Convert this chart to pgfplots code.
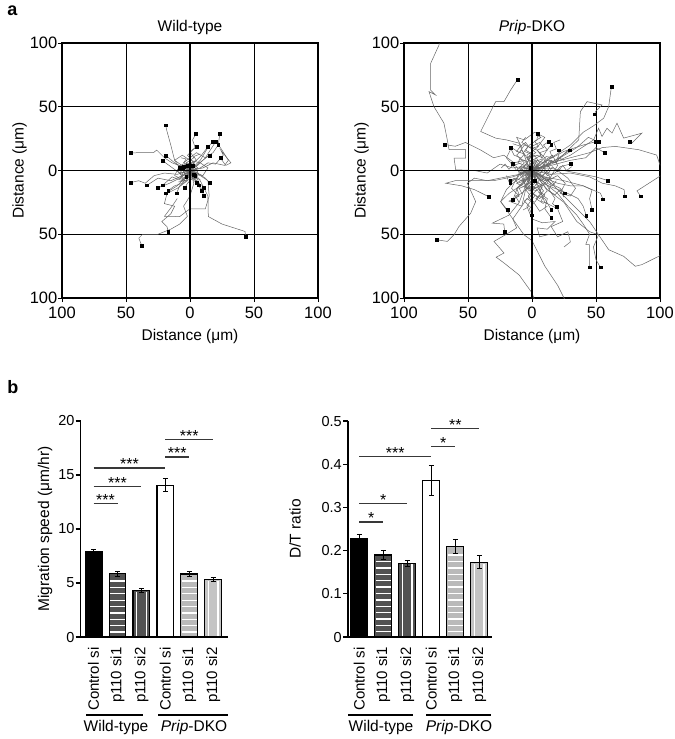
\documentclass[border=0pt]{standalone}
\usepackage{fontspec}
\setmainfont{Liberation Sans}
\usepackage{pgfplots}
\pgfplotsset{compat=1.18}
\definecolor{trk}{gray}{0.40}
\definecolor{dk}{gray}{0.32}
\definecolor{lt}{gray}{0.73}
\definecolor{lt2}{gray}{0.77}
\definecolor{sigc}{gray}{0.22}
\pgfplotsset{
  track/.style={color=trk, line width=0.5bp, mark=none, forget plot},
  endp/.style={only marks, mark=square*, mark size=1.4bp, black, forget plot},
  trajaxis/.style={scale only axis, width=256bp, height=255bp, anchor=south west,
    xmin=-100,xmax=100,ymin=-100,ymax=100,
    xtick={-100,-50,0,50,100}, ytick={-100,-50,0,50,100},
    xticklabels={100,50,0,50,100}, yticklabels={100,50,0,50,100},
    tick pos=left, tick align=outside, major tick length=4bp,
    tick style={black, line width=0.8bp},
    grid=major, grid style={black, line width=0.6bp},
    axis line style={line width=1.2bp},
    ticklabel style={font=\fontsize{16.5bp}{18bp}\selectfont},
    yticklabel style={inner xsep=0.5bp},
    xlabel={Distance (μm)}, ylabel={Distance (μm)},
    label style={font=\fontsize{15.5bp}{18bp}\selectfont},
    ylabel style={at={(axis description cs:-0.166,0.5)}, anchor=center},
    title style={font=\fontsize{15.5bp}{18bp}\selectfont, at={(axis description cs:0.5,1)}, anchor=base, yshift=6bp},
  },
  baraxis/.style={scale only axis, height=216bp, anchor=south west,
    axis lines=left, axis line style={-, line width=1.2bp},
    ymin=0, xtick={0,...,5},
    xticklabels={Control si, p110 si1, p110 si2, Control si, p110 si1, p110 si2},
    xticklabel style={rotate=90, anchor=east, font=\fontsize{15bp}{17bp}\selectfont},
    major x tick style={draw=none},
    tick align=outside, major tick length=5bp,
    major y tick style={black, line width=1.2bp},
    yticklabel style={font=\fontsize{14.5bp}{16bp}\selectfont, inner xsep=1bp},
    ylabel style={font=\fontsize{15.5bp}{18bp}\selectfont, anchor=center},
    clip=false,
  },
  bstyle/.style={ybar, bar width=0.7, bar shift=0, draw=black, line width=1.2bp,
    error bars/y dir=both, error bars/y explicit,
    error bars/error bar style={black, line width=1bp},
    error bars/error mark options={rotate=90, black, mark size=2.5bp, line width=1bp}},
}
\tikzset{
  sig/.style={draw=sigc, line width=1.2bp},
  star/.style={anchor=south, inner sep=0pt, yshift=-2.5bp, font=\fontsize{16bp}{16bp}\selectfont},
  wst/.style={white, line width=1.3bp},
}
\begin{document}
\fontsize{15.5bp}{18bp}\selectfont
\begin{tikzpicture}
\useasboundingbox (0,0) rectangle (675bp,-739bp);
\node[anchor=base west, font=\bfseries\fontsize{18bp}{18bp}\selectfont] at (2bp,-15bp) {a};
\node[anchor=base west, font=\bfseries\fontsize{18bp}{18bp}\selectfont] at (2bp,-393bp) {b};

% ---------------- Wild-type trajectories
\begin{axis}[trajaxis, at={(62bp,-298bp)}, title={Wild-type}]
\addplot[track] coordinates {(0,0) (-5,3) (-12,8) (-15,19.9) (-18.2,31.6) (-19,35.5)};
\addplot[track] coordinates {(0,0) (3,6) (-2,12) (4,18) (2,24) (4.7,28.8)};
\addplot[track] coordinates {(0,0) (6,4) (12,10) (18,14) (22,20) (23.4,28.8)};
\addplot[track] coordinates {(0,0) (8,8) (14,18) (17.6,22.5)};
\addplot[track] coordinates {(0,0) (-5,6) (5,14) (12,10) (20,22.5)};
\addplot[track] coordinates {(0,0) (10,2) (18,6) (27,4) (30,8) (25,16) (22,20.5)};
\addplot[track] coordinates {(0,0) (4,7) (9,12) (13.8,18.4)};
\addplot[track] coordinates {(0,0) (-3,6) (3,10) (0,15) (5,18.4)};
\addplot[track] coordinates {(0,0) (5,4) (10,8) (15.1,11.9)};
\addplot[track] coordinates {(0,0) (8,2) (14,6) (20,5) (26,12) (24,16) (32,6) (28,4) (23.7,9.8)};
\addplot[track] coordinates {(0,0) (-6,3) (-14,6) (-20,10) (-26,16) (-28.6,14) (-46.6,13.9)};
\addplot[track] coordinates {(0,0) (-5,2) (-12,6) (-19,11.9)};
\addplot[track] coordinates {(0,0) (-8,-2) (-15,3) (-21.4,7.7)};
\addplot[track] coordinates {(0,0) (-10,-3) (-20,-2) (-28,-4) (-35,-10) (-40,-8) (-46.6,-9.5)};
\addplot[track] coordinates {(0,0) (-6,-4) (-15,-8) (-25,-6) (-33.6,-11.6)};
\addplot[track] coordinates {(0,0) (-8,-6) (-16,-10) (-25.5,-13.7)};
\addplot[track] coordinates {(0,0) (-6,-8) (-14,-5) (-21.4,-11.6)};
\addplot[track] coordinates {(0,0) (-4,-6) (-10,-12) (-19,-17.8)};
\addplot[track] coordinates {(0,0) (-6,-10) (-12,-12) (-17,-15.8)};
\addplot[track] coordinates {(0,0) (-3,-8) (-8,-12) (-10.5,-17.8)};
\addplot[track] coordinates {(0,0) (2,-6) (-2,-10) (-4,-13.7)};
\addplot[track] coordinates {(0,0) (5,-4) (8,-8) (10.9,-13.7)};
\addplot[track] coordinates {(0,0) (3,-6) (6,-10) (8.9,-15.8)};
\addplot[track] coordinates {(0,0) (5,-5) (8,-12) (10.9,-20)};
\addplot[track] coordinates {(0,0) (6,-2) (12,-6) (15.1,-9.5)};
\addplot[track] coordinates {(0,0) (2,-4) (5,-9.5)};
\addplot[track] coordinates {(0,0) (4,-6) (7,-11.6)};
\addplot[track] coordinates {(0,0) (-2,-8) (-10,-14) (-18,-18) (-20,-26) (-12,-28) (-15,-34) (-22,-40) (-18,-44) (-17,-48)};
\addplot[track] coordinates {(0,0) (3,-10) (0,-20) (-5,-28) (-2,-36) (-8,-42) (-15,-46) (-25,-50) (-37,-50) (-40,-53) (-37.8,-58.7)};
\addplot[track] coordinates {(0,0) (3,-8) (10,-12) (14,-20) (14.3,-36.1) (25,-42) (43,-47.8) (43.5,-52.2)};
\addplot[track] coordinates {(0,0) (8,-4) (14,-8) (15,-20) (12,-30) (0,-30) (-8,-36.1) (-20,-36) (-14,-28) (-10,-22)};
\addplot[track] coordinates {(0,0) (-4,3) (-8,-2) (-3,-5) (-6,2) (-2,4)};
\addplot[track] coordinates {(0,0) (3,3) (-2,6) (-6,2) (-4,-3) (2,-2) (4,-4)};
\addplot[track] coordinates {(0,0) (-6,5) (-10,0) (-5,-6) (0,-3) (-5,3)};
\addplot[track] coordinates {(0,0) (6,2) (2,6) (-4,4) (-2,-2) (3,-3) (1,-6) (-3,-5)};
\addplot[track] coordinates {(0,0) (-8,4) (-12,-4) (-4,-8) (4,-6) (6,0) (2,4)};
\addplot[track] coordinates {(0,0) (10,-4) (14,2) (8,6) (0,8) (-6,12) (-12,8) (-8,2)};
\addplot[track] coordinates {(0,0) (-3,2) (-1,5) (-5,6) (-3,9) (-7,10)};
\addplot[track] coordinates {(0,0) (2,-2) (5,0) (7,-3) (4,-6) (8,-7)};
\addplot[track] coordinates {(0,0) (-2,-3) (-5,-1) (-7,-5) (-4,-8) (-9,-9)};
\addplot[track] coordinates {(0,0) (3,2) (1,6) (5,8) (3,11) (8,13)};
\addplot[endp] coordinates {(-19,35.5) (4.7,28.8) (23.4,28.8) (17.6,22.5) (20,22.5) (22,20.5) (13.8,18.4) (5,18.4) (15.1,11.9) (23.7,9.8) (-46.6,13.9) (-19,11.9) (-21.4,7.7) (-46.6,-9.5) (-33.6,-11.6) (-25.5,-13.7) (-21.4,-11.6) (-19,-17.8) (-17,-15.8) (-10.5,-17.8) (-4,-13.7) (10.9,-13.7) (8.9,-15.8) (10.9,-20) (15.1,-9.5) (5,-9.5) (7,-11.6) (-17,-48) (-37.8,-58.7) (43.5,-52.2) (-2,4) (4,-4) (-5,3) (-3,-5) (2,4) (-8,2) (-6,2) (3,-3)};
\draw[line width=1.2bp] (axis cs:-100,0) -- (axis cs:100,0);
\draw[line width=1.2bp] (axis cs:0,-100) -- (axis cs:0,100);
\end{axis}

% ---------------- Prip-DKO trajectories
\begin{axis}[trajaxis, at={(404bp,-298bp)}, title={\textit{Prip}-DKO}]
\addplot[track] coordinates {(0,0) (-8,3) (-15,2) (-25,5) (-35,-2) (-45,0) (-59.6,0.6) (-60.9,9.8) (-51.8,9.8) (-51.8,16.3) (-64.8,16.3) (-66.2,24.1) (-68.8,37.1) (-76.6,50.1) (-80.5,61.9) (-75.3,59.2) (-79.2,63.1) (-79.2,84) (-72.7,98.3) (-71,110)};
\addplot[track] coordinates {(0,0) (-6,8) (-14,6) (-22,12) (-30,10) (-40,16) (-52,22) (-60,19) (-68.5,20.5)};
\addplot[track] coordinates {(0,0) (-4,6) (-6,12) (-10.2,21.5) (-20,24) (-28.4,25.4) (-40.1,30.6) (-28.4,54) (-21.9,54) (-16.7,63.1) (-11.2,71.5)};
\addplot[track] coordinates {(0,0) (8,6) (18,12) (30,20) (40,30) (48,35) (56,41) (59.9,50.1) (62,65.5)};
\addplot[track] coordinates {(0,0) (12,4) (24,12) (36.5,24.1) (37.8,46.2) (43,54) (54.7,51.4) (49.5,46.2) (49.2,44.1)};
\addplot[track] coordinates {(0,0) (15,5) (30,12) (48.2,24.1) (52,33.2) (54.7,26.7) (58.6,33.2) (62.5,29.3) (66.4,37.1) (71.6,25.4) (85.9,29.3) (78.1,21.5) (76.6,22.5)};
\addplot[track] coordinates {(0,0) (15,6) (30,10) (45,14) (55,18) (65.1,18.9) (83.4,16.3) (97.4,12.1) (100,4.3) (104,0) (100,-4.4) (82,-16) (85,-20.2)};
\addplot[track] coordinates {(0,0) (15,-3) (30,-2) (45,-5) (55,-10) (65,-12) (72,-15) (72.4,-20.2)};
\addplot[track] coordinates {(0,0) (12,2) (25,0) (40,-3) (50,-5) (59.4,-7.9)};
\addplot[track] coordinates {(0,0) (15,4) (30,8) (42,10) (50,18) (56.6,14)};
\addplot[track] coordinates {(0,0) (12,8) (25,15) (40,20) (49.5,22.5)};
\addplot[track] coordinates {(0,0) (10,4) (22,10) (35,18) (44,26) (52,22.5)};
\addplot[track] coordinates {(0,0) (10,-5) (25,-8) (40,-12) (53.4,-17.8) (55.5,-22.5)};
\addplot[track] coordinates {(0,0) (10,-6) (20,-10) (30,-12) (40,-12) (46.9,-15.2) (45,-22) (46.9,-30.9)};
\addplot[track] coordinates {(0,0) (8,-10) (18,-14) (28,-18) (36,-22) (40,-28) (42.4,-35.3)};
\addplot[track] coordinates {(0,0) (10,-10) (20,-18) (28,-28) (35,-35) (40,-42) (45,-50) (42,-58) (44.8,-58.2) (44.8,-75.9)};
\addplot[track] coordinates {(0,0) (12,-15) (25,-25) (35,-40) (45,-48) (52,-50.4) (48,-60) (50,-70) (53.4,-75.9)};
\addplot[track] coordinates {(0,0) (15,-10) (25,-20) (35,-30) (45,-40) (52,-50.4) (59.9,-62.1) (71.6,-67.3) (80.7,-75.1) (85.9,-73.8) (100,-66.8) (110,-62)};
\addplot[track] coordinates {(0,0) (-10,-3) (-20,-5) (-35,-8) (-45,-6) (-50.5,-10) (-44,-24.4) (-47.9,-33.5) (-57,-43.9) (-60.9,-50.4) (-66.2,-55.6) (-74.7,-54.3)};
\addplot[track] coordinates {(0,0) (-15,-5) (-30,-8) (-45,-8) (-60,-8) (-67.4,-10) (-55,-12) (-45,-15) (-34.1,-20.4)};
\addplot[track] coordinates {(0,0) (-8,-5) (-15,-10) (-20,-15) (-24.5,-24.4) (-19.3,-30.9)};
\addplot[track] coordinates {(0,0) (-6,-10) (-18,-18) (-24.5,-24.4) (-6.3,-50.4) (0,-55) (5,-65) (10,-75) (20,-90) (25,-100) (27,-104)};
\addplot[track] coordinates {(0,0) (-5,-12) (-10,-25) (-18,-35) (-31,-41.3) (-22,-42) (-21.4,-47.8)};
\addplot[track] coordinates {(0,0) (-5,-8) (-12,-15) (-14.8,-23)};
\addplot[track] coordinates {(0,0) (-5,-15) (-8,-28) (-15,-38) (-12,-45) (-20,-50) (-29.7,-55.6) (-21.9,-64.7) (-28,-68) (-21.9,-72.5) (-10,-82) (0,-96) (3,-104)};
\addplot[track] coordinates {(0,0) (3,-4) (-2,-7) (4,-10) (1,-14) (6,-12) (9,-16) (5,-20) (10,-22) (15,-30.8)};
\addplot[track] coordinates {(0,0) (-4,3) (2,6) (-3,9) (4,12) (8,10) (11,15) (15,20.4)};
\addplot[track] coordinates {(0,0) (5,2) (2,7) (8,9) (6,14) (12,16) (9,20) (12.9,22.5)};
\addplot[track] coordinates {(0,0) (-3,-3) (-8,-1) (-6,4) (-11,6) (-9,10) (-14,12) (-16.9,17.9)};
\addplot[track] coordinates {(0,0) (-6,2) (-4,-3) (-10,-2) (-12,3) (-14.8,5.1)};
\addplot[track] coordinates {(0,0) (4,-3) (9,0) (12,-4) (18,-2) (22,3) (30,5.1)};
\addplot[track] coordinates {(0,0) (-5,-4) (-9,-2) (-12,-7) (-17,-8)};
\addplot[track] coordinates {(0,0) (-3,-6) (-8,-8) (-13,-6) (-17,-10)};
\addplot[track] coordinates {(0,0) (6,-5) (10,-8) (14,-6) (18,-12) (22,-14) (25.5,-17.8)};
\addplot[track] coordinates {(0,0) (3,-8) (8,-12) (6,-18) (12,-22) (10,-30) (15,-37)};
\addplot[track] coordinates {(0,0) (5,-6) (11,-10) (14,-16) (18,-22) (16,-26) (19.3,-28.7)};
\addplot[track] coordinates {(0,0) (-2,-8) (2,-14) (-3,-20) (1,-26) (-2,-30) (0,-35)};
\addplot[track] coordinates {(0,0) (6,4) (10,2) (14,8) (18,6) (21,12) (21,16)};
\addplot[track] coordinates {(0,0) (8,3) (12,8) (18,6) (24,12) (29.6,16)};
\addplot[track] coordinates {(0,0) (-2,-5) (-8,-10) (-12,-14) (-10,-19) (-14.8,-23)};
\addplot[track] coordinates {(0,0) (2,5) (-3,8) (0,13) (-5,16) (-2,20) (4,24) (4.3,28.7)};
\addplot[track] coordinates {(0,0) (-5,5) (-10,0) (-6,-6) (-12,-10) (-4,-14) (-8,-18) (-2,-12) (3,-5) (-1,2)};
\addplot[track] coordinates {(0,0) (6,6) (2,12) (-4,10) (-8,16) (-12,12) (-6,6) (-10,2) (-3,-3)};
\addplot[track] coordinates {(0,0) (8,-4) (14,2) (10,8) (16,12) (20,4) (14,-6) (8,-12) (2,-8)};
\addplot[track] coordinates {(0,0) (-7,-8) (-3,-14) (4,-16) (8,-10) (12,-16) (6,-22) (0,-18) (-4,-10)};
\addplot[track] coordinates {(0,0) (10,10) (4,16) (-6,20) (-10,14) (-16,18) (-20,10) (-15,4) (-8,6)};
\addplot[track] coordinates {(0,0) (-10,-2) (-16,-14) (-10,-20) (-18,-24) (-8,-28) (-4,-22) (2,-26) (6,-32) (12,-28)};
\addplot[track] coordinates {(0,0) (12,-8) (20,-4) (26,-10) (22,-18) (30,-20) (34,-14) (28,-6) (20,0)};
\addplot[track] coordinates {(0,0) (-4,12) (4,18) (10,26) (2,30) (-6,24) (-12,26) (-8,18)};
\addplot[track] coordinates {(0,0) (-3,-10) (2,-20) (-4,-28) (0,-38) (8,-41) (18,-40) (12,-46) (4,-45) (6,-52) (14,-50)};
\addplot[track] coordinates {(0,0) (6,-15) (10,-25) (20,-30) (24,-40) (15,-44) (20,-52) (28,-48) (30,-56) (25,-60)};
\addplot[track] coordinates {(0,0) (-3,4) (2,8) (-2,11) (3,14) (-1,17) (5,19) (2,23) (7,26) (3,28)};
\addplot[track] coordinates {(0,0) (4,-2) (1,-5) (6,-7) (3,-11) (8,-13) (5,-17) (10,-19) (7,-24) (12,-26)};
\addplot[track] coordinates {(0,0) (-4,-2) (-2,-6) (-7,-8) (-5,-12) (-10,-14) (-8,-18) (-13,-20) (-10,-25)};
\addplot[track] coordinates {(0,0) (3,3) (7,1) (9,5) (13,3) (15,8) (19,6) (21,10) (25,8)};
\addplot[track] coordinates {(0,0) (-3,2) (-6,-1) (-9,3) (-12,0) (-15,4) (-18,1) (-21,5) (-24,2)};
\addplot[track] coordinates {(0,0) (2,-3) (-1,-6) (3,-9) (0,-12) (4,-15) (1,-18) (5,-21) (2,-25) (-2,-22)};
\addplot[track] coordinates {(0,0) (5,5) (2,9) (7,12) (4,16) (9,18) (6,22) (-2,18) (-5,22) (-9,19)};
\addplot[track] coordinates {(0,0) (-5,-5) (-1,-9) (-6,-12) (-2,-16) (4,-13) (8,-18) (3,-22) (9,-26)};
\addplot[track] coordinates {(0,0) (6,-3) (9,2) (13,-2) (16,3) (20,-1) (24,4) (27,0) (31,3)};
\addplot[track] coordinates {(0,0) (-6,3) (-3,7) (-9,9) (-6,13) (-12,15) (-9,19) (-15,21)};
\addplot[track] coordinates {(0,0) (2,4) (6,2) (4,-3) (8,-5) (11,-1) (14,-5) (12,-10) (16,-12) (19,-8)};
\addplot[track] coordinates {(0,0) (-2,-3) (-6,0) (-9,-4) (-6,-8) (-11,-10) (-14,-6) (-18,-9) (-20,-4)};
\addplot[track] coordinates {(0,0) (1,6) (-4,9) (-1,13) (-6,15) (-3,19) (-8,22) (-5,26)};
\addplot[track] coordinates {(0,0) (4,8) (9,6) (11,11) (16,10) (14,15) (19,17) (17,22) (22,24)};
\addplot[track] coordinates {(0,0) (-4,-8) (0,-12) (-5,-15) (-1,-20) (-6,-24) (-2,-28) (-7,-31)};
\addplot[track] coordinates {(0,0) (7,-8) (11,-5) (15,-11) (13,-16) (18,-19) (22,-15) (25,-21)};
\addplot[endp] coordinates {(-11.2,71.5) (62,65.5) (49.2,44.1) (-68.5,20.5) (76.6,22.5) (49.5,22.5) (52,22.5) (56.6,14) (4.3,28.7) (12.9,22.5) (15,20.4) (21,16) (29.6,16) (-16.9,17.9) (-14.8,5.1) (30,5.1) (59.4,-7.9) (72.4,-20.2) (85,-20.2) (55.5,-22.5) (25.5,-17.8) (46.9,-30.9) (42.4,-35.3) (15,-30.8) (15,-37) (19.3,-28.7) (-34.1,-20.4) (-19.3,-30.9) (-21.4,-47.8) (-74.7,-54.3) (44.8,-75.9) (53.4,-75.9) (0,-35) (-17,-8) (-17,-10) (-14.8,-23) (-1,2) (2,-8)};
\draw[line width=1.2bp] (axis cs:-100,0) -- (axis cs:100,0);
\draw[line width=1.2bp] (axis cs:0,-100) -- (axis cs:0,100);
\end{axis}

% ---------------- Migration speed
\begin{axis}[baraxis, width=147.3bp, at={(80.7bp,-637bp)},
  xmin=-0.54, xmax=5.62, ymax=20, ytick={0,5,10,15,20}, yticklabels={0,5,10,15,20},
  ylabel={Migration speed (μm/hr)}, ylabel style={at={(axis description cs:-0.2424,0.5)}}]
\addplot[bstyle, fill=black] coordinates {(0,7.93) +- (0,0.2)};
\addplot[bstyle, fill=dk] coordinates {(1,5.86) +- (0,0.25)};
\addplot[bstyle, fill=dk] coordinates {(2,4.29) +- (0,0.17)};
\addplot[bstyle, fill=white] coordinates {(3,14.05) +- (0,0.6)};
\addplot[bstyle, fill=lt] coordinates {(4,5.83) +- (0,0.22)};
\addplot[bstyle, fill=lt2] coordinates {(5,5.32) +- (0,0.22)};
\pgfplotsinvokeforeach{0.46,1.05,1.64,2.23,2.82,3.41,4.00,4.59,5.18}{
  \draw[wst] (axis cs:0.68,#1) -- (axis cs:1.32,#1);
  \draw[wst] (axis cs:3.68,#1) -- (axis cs:4.32,#1);
}
\draw[wst] (axis cs:1.8,0.1) -- (axis cs:1.8,4.18);
\draw[wst] (axis cs:2.2,0.1) -- (axis cs:2.2,4.18);
\draw[wst] (axis cs:4.8,0.1) -- (axis cs:4.8,5.21);
\draw[wst] (axis cs:5.2,0.1) -- (axis cs:5.2,5.21);
\draw[sig] (axis cs:0,12.35) -- node[star] {***} (axis cs:1,12.35);
\draw[sig] (axis cs:0,13.95) -- node[star] {***} (axis cs:2,13.95);
\draw[sig] (axis cs:0,15.65) -- node[star] {***} (axis cs:3,15.65);
\draw[sig] (axis cs:3,16.67) -- node[star] {***} (axis cs:4,16.67);
\draw[sig] (axis cs:3,18.27) -- node[star] {***} (axis cs:5,18.27);
\end{axis}

% ---------------- D/T ratio
\begin{axis}[baraxis, width=144bp, at={(348bp,-637bp)},
  xmin=-0.47, xmax=5.53, ymax=0.5, ytick={0,0.1,0.2,0.3,0.4,0.5}, yticklabels={0,0.1,0.2,0.3,0.4,0.5},
  ylabel={D/T ratio}, ylabel style={at={(axis description cs:-0.368,0.5)}}]
\addplot[bstyle, fill=black] coordinates {(0,0.228) +- (0,0.01)};
\addplot[bstyle, fill=dk] coordinates {(1,0.190) +- (0,0.01)};
\addplot[bstyle, fill=dk] coordinates {(2,0.171) +- (0,0.007)};
\addplot[bstyle, fill=white] coordinates {(3,0.362) +- (0,0.034)};
\addplot[bstyle, fill=lt] coordinates {(4,0.209) +- (0,0.016)};
\addplot[bstyle, fill=lt2] coordinates {(5,0.173) +- (0,0.015)};
\pgfplotsinvokeforeach{0.012,0.027,0.042,0.057,0.071,0.086,0.101,0.116,0.131,0.145,0.160,0.175}{
  \draw[wst] (axis cs:0.68,#1) -- (axis cs:1.32,#1);
  \draw[wst] (axis cs:3.68,#1) -- (axis cs:4.32,#1);
}
\draw[wst] (axis cs:3.68,0.190) -- (axis cs:4.32,0.190);
\draw[wst] (axis cs:1.8,0.003) -- (axis cs:1.8,0.168);
\draw[wst] (axis cs:2.2,0.003) -- (axis cs:2.2,0.168);
\draw[wst] (axis cs:4.8,0.003) -- (axis cs:4.8,0.170);
\draw[wst] (axis cs:5.2,0.003) -- (axis cs:5.2,0.170);
\draw[sig] (axis cs:0,0.266) -- node[star] {*} (axis cs:1,0.266);
\draw[sig] (axis cs:0,0.309) -- node[star] {*} (axis cs:2,0.309);
\draw[sig] (axis cs:0,0.418) -- node[star] {***} (axis cs:3,0.418);
\draw[sig] (axis cs:3,0.441) -- node[star] {*} (axis cs:4,0.441);
\draw[sig] (axis cs:3,0.482) -- node[star] {**} (axis cs:5,0.482);
\end{axis}

% ---------------- group labels
\draw[line width=1.2bp] (86bp,-715bp) -- (143bp,-715bp);
\node[anchor=base] at (116bp,-731bp) {Wild-type};
\draw[line width=1.2bp] (158bp,-715bp) -- (228bp,-715bp);
\node[anchor=base] at (194bp,-731bp) {\textit{Prip}-DKO};
\draw[line width=1.2bp] (348bp,-715bp) -- (413bp,-715bp);
\node[anchor=base] at (381bp,-731bp) {Wild-type};
\draw[line width=1.2bp] (426bp,-715bp) -- (491bp,-715bp);
\node[anchor=base] at (459bp,-731bp) {\textit{Prip}-DKO};
\end{tikzpicture}
\end{document}
